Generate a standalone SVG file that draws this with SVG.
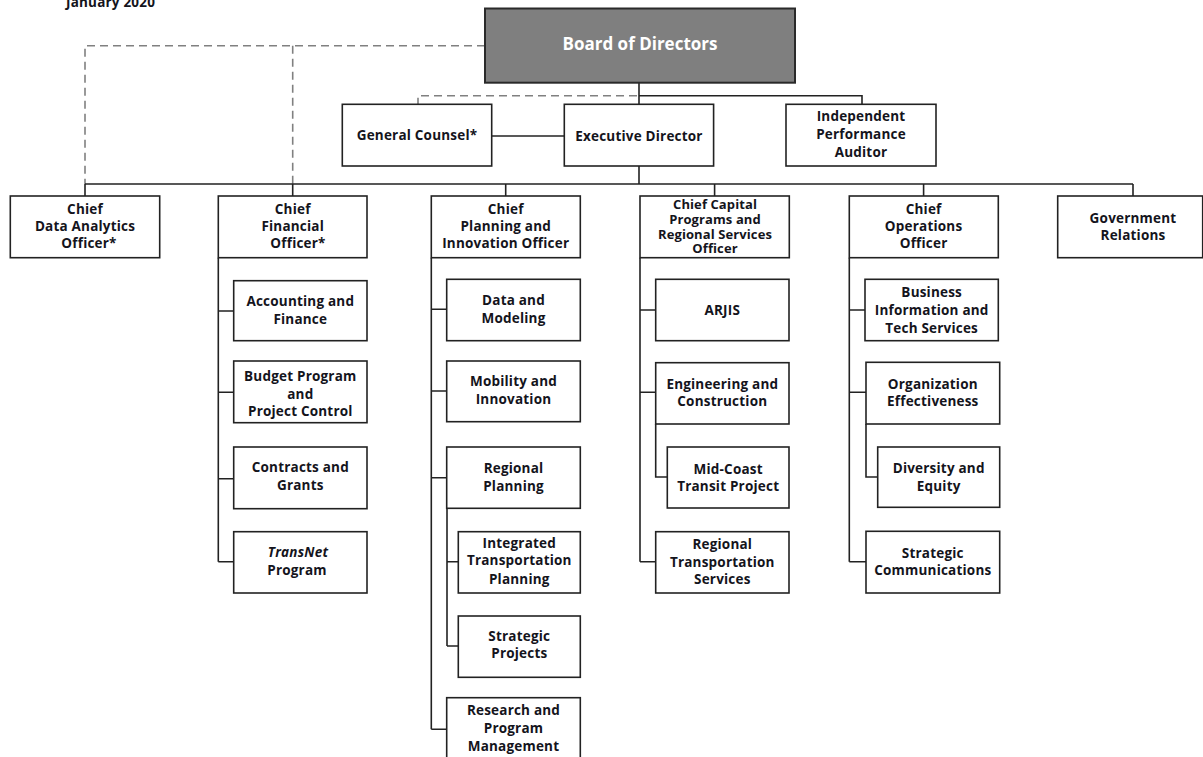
<svg xmlns="http://www.w3.org/2000/svg" width="1203" height="757" viewBox="0 0 1203 757">
<style>
  .box { fill: #ffffff; stroke: #222222; stroke-width: 1.6; }
  .board { fill: #7f7f7f; stroke: #2a2a2a; stroke-width: 2; }
  .t { font-family: "Open Sans", "Liberation Sans", sans-serif; font-weight: 700; font-size: 13.5px; letter-spacing: 0.2px; fill: #14141c; text-anchor: middle; }
  .tc { font-size: 13px; letter-spacing: 0.1px; }
  .tb { font-family: "Open Sans", "Liberation Sans", sans-serif; font-weight: 700; font-size: 17px; fill: #ffffff; text-anchor: middle; }
  .ln { fill: none; stroke: #222222; stroke-width: 1.6; }
  .dash { fill: none; stroke: #808080; stroke-width: 1.6; stroke-dasharray: 8 5; }
</style>
<rect width="1203" height="757" fill="#ffffff"/>

<text class="t" x="66" y="7" style="text-anchor:start">January 2020</text>

<g id="connectors">
  <path class="dash" d="M485 45.7 H85 V184 M292.7 45.7 V184"/>
  <path class="dash" d="M637 95.7 H418 V104"/>
  <path class="ln" d="M639 82.7 V104 M639 95.7 H862 V104"/>
  <path class="ln" d="M491.7 136 H564"/>
  <path class="ln" d="M639 166 V184 M85 184 H1133 M85 184 V196 M292.7 184 V196 M505.7 184 V196 M714.6 184 V196 M923.6 184 V196 M1133 184 V196"/>
  <path class="ln" d="M218.3 257.7 V561.7 M218.3 311 H233.7 M218.3 392.3 H233.7 M218.3 478.7 H233.7 M218.3 561.7 H233.7"/>
  <path class="ln" d="M431.3 257.7 V729.3 M431.3 309.3 H446.7 M431.3 391 H446.7 M431.3 477.7 H446.7 M431.3 729.3 H446.7"/>
  <path class="ln" d="M447 508.3 V646 M447 561.7 H458.3 M447 646 H458.3"/>
  <path class="ln" d="M640 257.7 V561.7 M640 310 H655.7 M640 392.3 H655.7 M640 561.7 H655.7"/>
  <path class="ln" d="M655.7 424 V477 H667.3"/>
  <path class="ln" d="M849.3 257.7 V561.7 M849.3 310 H865 M849.3 392.3 H866 M849.3 561.7 H866"/>
  <path class="ln" d="M866 424 V477 H877.7"/>
</g>

<g id="board">
  <rect class="board" x="485" y="8.5" width="310" height="74.2"/>
  <text class="tb" x="640" y="50">Board of Directors</text>
</g>

<g id="general-counsel">
  <rect class="box" x="342.3" y="104.3" width="149.4" height="61.7"/>
  <text class="t" x="417" y="139.5">General Counsel*</text>
</g>

<g id="executive-director">
  <rect class="box" x="564.3" y="104.3" width="149.3" height="61.7"/>
  <text class="t" x="639" y="140.5">Executive Director</text>
</g>

<g id="auditor">
  <rect class="box" x="786" y="104.3" width="150" height="61.7"/>
  <text class="t" x="861" y="121">Independent</text>
  <text class="t" x="861" y="139">Performance</text>
  <text class="t" x="861" y="156.5">Auditor</text>
</g>

<g id="chief-data-analytics">
  <rect class="box" x="10.3" y="196" width="149.4" height="61.7"/>
  <text class="t" x="85" y="214">Chief</text>
  <text class="t" x="85" y="231">Data Analytics</text>
  <text class="t" x="89" y="248">Officer*</text>
</g>

<g id="chief-financial">
  <rect class="box" x="218.3" y="196" width="148.7" height="61.7"/>
  <text class="t" x="292.7" y="214">Chief</text>
  <text class="t" x="292.7" y="231">Financial</text>
  <text class="t" x="298" y="248">Officer*</text>
</g>

<g id="chief-planning">
  <rect class="box" x="431.3" y="196" width="149" height="61.7"/>
  <text class="t" x="505.7" y="214">Chief</text>
  <text class="t" x="505.7" y="231">Planning and</text>
  <text class="t" x="505.7" y="248">Innovation Officer</text>
</g>

<g id="chief-capital">
  <rect class="box" x="640" y="196" width="149.3" height="61.7"/>
  <text class="t tc" x="715" y="208.5">Chief Capital</text>
  <text class="t tc" x="715" y="223.5">Programs and</text>
  <text class="t tc" x="715" y="238.5">Regional Services</text>
  <text class="t tc" x="715" y="252.5">Officer</text>
</g>

<g id="chief-operations">
  <rect class="box" x="849.3" y="196" width="149" height="61.7"/>
  <text class="t" x="923.6" y="214">Chief</text>
  <text class="t" x="923.6" y="231">Operations</text>
  <text class="t" x="923.6" y="248">Officer</text>
</g>

<g id="government-relations">
  <rect class="box" x="1057.7" y="196" width="145" height="61.7"/>
  <text class="t" x="1133" y="222.5">Government</text>
  <text class="t" x="1133" y="239.5">Relations</text>
</g>

<g id="accounting-finance">
  <rect class="box" x="233.7" y="280.7" width="133.3" height="60"/>
  <text class="t" x="300.3" y="305.5">Accounting and</text>
  <text class="t" x="300.3" y="323.5">Finance</text>
</g>

<g id="budget-program">
  <rect class="box" x="233.7" y="361" width="133.3" height="61.7"/>
  <text class="t" x="300.3" y="380.5">Budget Program</text>
  <text class="t" x="300.3" y="398.5">and</text>
  <text class="t" x="300.3" y="416">Project Control</text>
</g>

<g id="contracts-grants">
  <rect class="box" x="233.7" y="447" width="133.3" height="61.7"/>
  <text class="t" x="300.3" y="472">Contracts and</text>
  <text class="t" x="300.3" y="490">Grants</text>
</g>

<g id="transnet-program">
  <rect class="box" x="233.7" y="531.7" width="133.3" height="61.3"/>
  <text class="t" x="298" y="557" style="font-style:italic">TransNet</text>
  <text class="t" x="297" y="575">Program</text>
</g>

<g id="data-modeling">
  <rect class="box" x="446.7" y="279.3" width="133.6" height="61.4"/>
  <text class="t" x="513.5" y="305">Data and</text>
  <text class="t" x="513.5" y="323">Modeling</text>
</g>

<g id="mobility-innovation">
  <rect class="box" x="446.7" y="361" width="133.6" height="60.7"/>
  <text class="t" x="513.5" y="385.5">Mobility and</text>
  <text class="t" x="513.5" y="404">Innovation</text>
</g>

<g id="regional-planning">
  <rect class="box" x="446.7" y="447" width="133.6" height="61.3"/>
  <text class="t" x="513.5" y="473">Regional</text>
  <text class="t" x="513.5" y="490.5">Planning</text>
</g>

<g id="integrated-transportation-planning">
  <rect class="box" x="458.3" y="531.7" width="122" height="61.3"/>
  <text class="t" x="519.3" y="548">Integrated</text>
  <text class="t" x="519.3" y="565">Transportation</text>
  <text class="t" x="519.3" y="583.5">Planning</text>
</g>

<g id="strategic-projects">
  <rect class="box" x="458.3" y="616" width="122" height="61.3"/>
  <text class="t" x="519.3" y="641">Strategic</text>
  <text class="t" x="519.3" y="658">Projects</text>
</g>

<g id="research-program-management">
  <rect class="box" x="446.7" y="697.7" width="133.6" height="70"/>
  <text class="t" x="513.5" y="715">Research and</text>
  <text class="t" x="513.5" y="733">Program</text>
  <text class="t" x="513.5" y="751">Management</text>
</g>

<g id="arjis">
  <rect class="box" x="655.7" y="279.3" width="133.3" height="61.4"/>
  <text class="t" x="722.3" y="314.5">ARJIS</text>
</g>

<g id="engineering-construction">
  <rect class="box" x="655.7" y="362.7" width="133.3" height="61.3"/>
  <text class="t" x="722.3" y="389">Engineering and</text>
  <text class="t" x="722.3" y="406">Construction</text>
</g>

<g id="mid-coast">
  <rect class="box" x="667.3" y="447" width="121.7" height="61"/>
  <text class="t" x="728.2" y="473.5">Mid-Coast</text>
  <text class="t" x="728.2" y="490.5">Transit Project</text>
</g>

<g id="regional-transportation-services">
  <rect class="box" x="655.7" y="531.7" width="133.3" height="61.3"/>
  <text class="t" x="722.3" y="549">Regional</text>
  <text class="t" x="722.3" y="566.5">Transportation</text>
  <text class="t" x="722.3" y="583.5">Services</text>
</g>

<g id="business-information">
  <rect class="box" x="865" y="279.3" width="133.3" height="61.4"/>
  <text class="t" x="931.7" y="297">Business</text>
  <text class="t" x="931.7" y="314.5">Information and</text>
  <text class="t" x="931.7" y="332.5">Tech Services</text>
</g>

<g id="organization-effectiveness">
  <rect class="box" x="866" y="362.3" width="133.7" height="61.7"/>
  <text class="t" x="932.8" y="389">Organization</text>
  <text class="t" x="932.8" y="406">Effectiveness</text>
</g>

<g id="diversity-equity">
  <rect class="box" x="877.7" y="447" width="122" height="60.3"/>
  <text class="t" x="938.7" y="473">Diversity and</text>
  <text class="t" x="938.7" y="491">Equity</text>
</g>

<g id="strategic-communications">
  <rect class="box" x="866" y="531.3" width="133.7" height="61.7"/>
  <text class="t" x="932.8" y="558">Strategic</text>
  <text class="t" x="932.8" y="575">Communications</text>
</g>
</svg>
